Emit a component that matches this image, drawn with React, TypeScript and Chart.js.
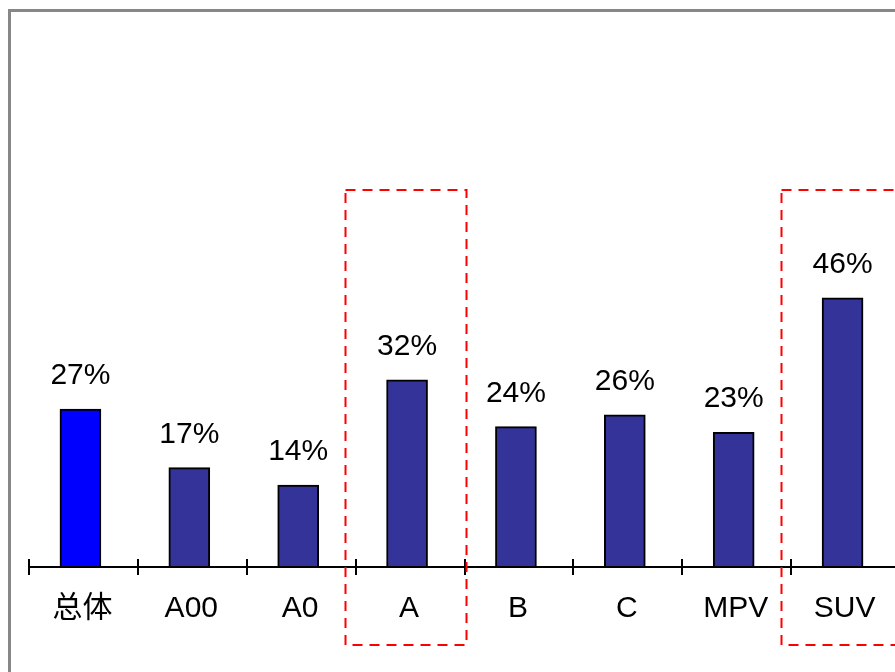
import React, { useEffect, useRef } from "react";
import { Chart, registerables } from "chart.js";

Chart.register(...registerables);

const categories = ["总体", "A00", "A0", "A", "B", "C", "MPV", "SUV"];
const shares = [27, 17, 14, 32, 24, 26, 23, 46];
const valueLabels = ["27%", "17%", "14%", "32%", "24%", "26%", "23%", "46%"];
const highlighted = ["A", "SUV"];

const FONT = '30px "Liberation Sans", Arial, "Noto Sans CJK SC", sans-serif';

const overlayPlugin = {
  id: "overlay",
  afterDraw(chart: any) {
    const ctx = chart.ctx as CanvasRenderingContext2D;
    const area = chart.chartArea;
    const ys = chart.scales.y;
    const meta = chart.getDatasetMeta(0);
    const w = (area.right - area.left) / categories.length;
    const y0 = Math.round(ys.getPixelForValue(0));
    const W = chart.width;
    const H = chart.height;

    ctx.save();
    // outer frame
    ctx.strokeStyle = "#878787";
    ctx.lineWidth = 3;
    ctx.beginPath();
    ctx.moveTo(9.5, H);
    ctx.lineTo(9.5, 10.5);
    ctx.lineTo(W, 10.5);
    ctx.stroke();

    // axis line
    ctx.strokeStyle = "#000";
    ctx.lineWidth = 2;
    ctx.beginPath();
    ctx.moveTo(area.left + 3, y0);
    ctx.lineTo(W, y0);
    ctx.stroke();
    // tick marks
    for (let i = 0; i <= categories.length; i++) {
      const x = Math.round(area.left + i * w + 3);
      ctx.beginPath();
      ctx.moveTo(x, y0 - 8);
      ctx.lineTo(x, y0 + 8);
      ctx.stroke();
    }

    // labels
    ctx.fillStyle = "#000";
    ctx.font = FONT;
    ctx.textAlign = "center";
    ctx.textBaseline = "alphabetic";
    meta.data.forEach((el: any, i: number) => {
      ctx.fillText(valueLabels[i], el.x, el.y - 25);
      ctx.fillText(categories[i], el.x + 2, y0 + 50);
    });

    // dashed highlight boxes
    ctx.strokeStyle = "#ff0000";
    ctx.lineWidth = 2;
    ctx.setLineDash([10, 7]);
    highlighted.forEach((c) => {
      const idx = categories.indexOf(c);
      const el = meta.data[idx];
      if (!el) return;
      const left = Math.round(el.x - 62) + 0.5;
      ctx.strokeRect(left, 190, 121, 455);
    });
    ctx.restore();
  },
};

export default function App() {
  const ref = useRef<HTMLCanvasElement>(null);
  useEffect(() => {
    if (!ref.current) return;
    const chart = new Chart(ref.current, {
      type: "bar",
      data: {
        labels: categories,
        datasets: [
          {
            data: shares,
            backgroundColor: categories.map((_, i) => (i === 0 ? "#0000ff" : "#333399")),
            borderColor: "#000",
            borderWidth: 2,
            barThickness: 41,
          },
        ],
      },
      options: {
        responsive: false,
        animation: false,
        layout: { padding: { left: 26, right: 23, top: 99, bottom: 105 } },
        scales: {
          x: { display: false },
          y: { display: false, min: 0, max: 80 },
        },
        plugins: { legend: { display: false }, tooltip: { enabled: false } },
      },
      plugins: [overlayPlugin],
    });
    return () => chart.destroy();
  }, []);
  return (
    <div
      style={{
        position: "fixed",
        left: 0,
        top: 0,
        width: 895,
        height: 672,
        overflow: "hidden",
        background: "#fff",
      }}
    >
      <canvas ref={ref} width={920} height={672} style={{ display: "block", width: 920, height: 672 }} />
    </div>
  );
}
